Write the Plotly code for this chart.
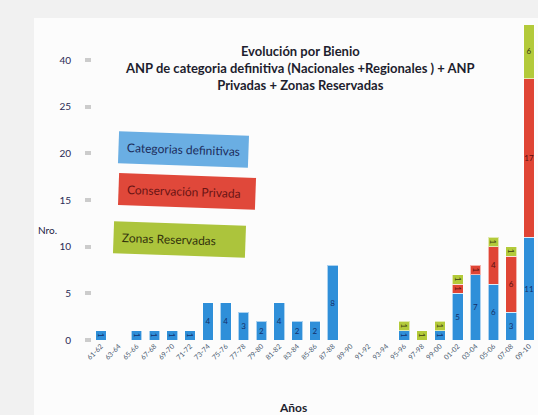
import plotly.graph_objects as go

bienios = ["61-62", "63-64", "65-66", "67-68", "69-70", "71-72", "73-74", "75-76",
           "77-78", "79-80", "81-82", "83-84", "85-86", "87-88", "89-90", "91-92",
           "93-94", "95-96", "97-98", "99-00", "01-02", "03-04", "05-06", "07-08", "09-10"]
categorias_definitivas = [1, 0, 1, 1, 1, 1, 4, 4, 3, 2, 4, 2, 2, 8, 0, 0, 0, 1, 0, 1, 5, 7, 6, 3, 11]
conservacion_privada =   [0, 0, 0, 0, 0, 0, 0, 0, 0, 0, 0, 0, 0, 0, 0, 0, 0, 0, 0, 0, 1, 1, 4, 6, 17]
zonas_reservadas =       [0, 0, 0, 0, 0, 0, 0, 0, 0, 0, 0, 0, 0, 0, 0, 0, 0, 1, 1, 1, 1, 0, 1, 1, 6]

y_tickvals = [0, 5, 10, 15, 20, 25, 30]
y_ticktext = ["0", "5", "10", "15", "20", "25", "40"]

series = [
    ("Categorias definitivas", categorias_definitivas, "#2f8fd9", "#14306a"),
    ("Conservación Privada", conservacion_privada, "#e04535", "#5a1010"),
    ("Zonas Reservadas", zonas_reservadas, "#b3ca3a", "#3a3a10"),
]

fig = go.Figure()
for name, vals, color, tcolor in series:
    fig.add_trace(go.Bar(
        x=bienios,
        y=[v if v > 0 else None for v in vals],
        name=name,
        marker=dict(color=color, line=dict(color="rgba(255,255,255,0.6)", width=1)),
        text=[str(v) if v > 0 else "" for v in vals],
        textposition="inside",
        insidetextanchor="middle",
        textfont=dict(size=8, color=tcolor, family="Lato"),
        constraintext="none",
        showlegend=False,
    ))

fig.update_layout(
    width=538, height=415,
    barmode="stack",
    bargap=0.4,
    paper_bgcolor="#f1f1f1",
    plot_bgcolor="#fcfcfc",
    margin=dict(l=92, r=0, t=25, b=75, autoexpand=False),
    font=dict(family="Lato", color="#222244"),
    xaxis=dict(
        type="category",
        categoryorder="array", categoryarray=bienios,
        range=[-0.5, 24.5],
        tickangle=-45,
        tickfont=dict(size=7, color="#4a5a70"),
        showgrid=False, showline=False, zeroline=False,
        ticks="", automargin=False,
    ),
    yaxis=dict(
        range=[0, 33.75],
        tickvals=y_tickvals, ticktext=y_ticktext,
        tickfont=dict(size=10, color="#2a2a55"),
        ticks="outside", ticklen=6, tickcolor="#cccccc", tickwidth=4,
        ticklabelstandoff=12,
        showgrid=False, showline=False, zeroline=False, automargin=False,
    ),
    shapes=[dict(type="rect", xref="paper", yref="paper", x0=-0.13, x1=1.0, y0=-0.3, y1=1.022,
                 fillcolor="#fcfcfc", line=dict(width=0), layer="below")],
)

title_lines = ["Evolución por Bienio",
               "ANP de categoria definitiva (Nacionales +Regionales ) + ANP",
               "Privadas + Zonas Reservadas"]
fig.add_annotation(
    text="<b>" + "<br>".join(title_lines) + "</b>",
    xref="paper", yref="paper", x=0.466, y=0.948, xanchor="center", yanchor="top",
    showarrow=False, align="center", font=dict(size=13, color="#1e1e2e", family="Lato"),
)

legend_boxes = [
    ("Categorias definitivas", "#6aaee3", "#1c2c5c", 0.058, 0.606),
    ("Conservación Privada&nbsp;&nbsp;", "#e0483a", "#6a1414", 0.058, 0.47),
    ("Zonas Reservadas&nbsp;&nbsp;&nbsp;&nbsp;&nbsp;&nbsp;&nbsp;", "#acc43c", "#33330c", 0.047, 0.32),
]
for txt, bg, fc, xx, yy in legend_boxes:
    fig.add_annotation(
        text=txt, xref="paper", yref="paper", x=xx, y=yy, xanchor="left", yanchor="middle",
        showarrow=False, bgcolor=bg, borderpad=8, textangle=2,
        font=dict(size=12, color=fc, family="Lato"),
    )

fig.add_annotation(text="Nro.", xref="paper", yref="paper", x=-0.1, y=0.35,
                   xanchor="center", yanchor="middle", showarrow=False,
                   font=dict(size=10, color="#222244", family="Lato"))
fig.add_annotation(text="<b>Años</b>", xref="paper", yref="paper", x=0.45, y=-0.185,
                   xanchor="center", yanchor="top", showarrow=False,
                   font=dict(size=12, color="#1e1e2e", family="Lato"))

fig.write_html("out.html", config={"displayModeBar": False},
               post_script="document.body.style.margin='0';")
